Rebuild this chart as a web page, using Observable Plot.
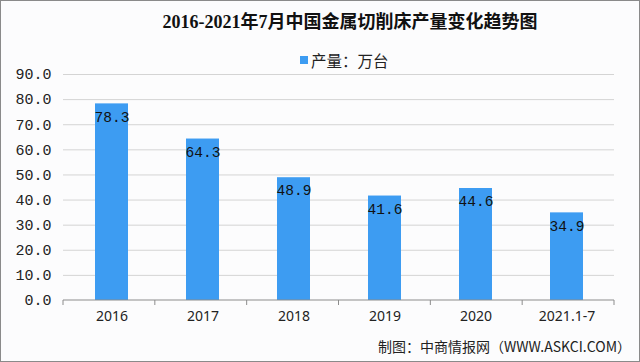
<!DOCTYPE html>
<html>
<head>
<meta charset="utf-8">
<script src="https://cdn.jsdelivr.net/npm/d3@7"></script>
<script src="https://cdn.jsdelivr.net/npm/@observablehq/plot@0.6"></script>
<style>
  html, body { margin: 0; padding: 0; background: #fff; }
  #frame {
    position: relative; width: 640px; height: 362px; box-sizing: border-box;
    border: 1px solid #8a8a8a; background: #fcfcfd; overflow: hidden;
    font-family: "Noto Sans CJK SC", "Noto Sans", sans-serif;
  }
  #title {
    position: absolute; left: 60px; right: 0; top: 9px; text-align: center;
    font-family: "Liberation Serif", "Noto Sans CJK SC", serif; font-weight: bold;
    font-size: 18px; color: #111; line-height: 24px;
  }
  #legend {
    position: absolute; left: 299px; top: 47px; font-size: 15.5px; color: #222; line-height: 24px;
    display: flex; align-items: center;
  }
  #legend .sw { width: 8px; height: 8px; background: #3d9cf2; margin-right: 3px; }
  #caption {
    position: absolute; right: 8px; top: 333px; font-size: 14px; color: #222; line-height: 24px;
  }
  #chart { position: absolute; left: 0; top: 0; }
</style>
</head>
<body>
<div id="frame">
  <div id="chart"></div>
  <div id="title">2016-2021年7月中国金属切削床产量变化趋势图</div>
  <div id="legend"><span class="sw"></span><span>产量：万台</span></div>
  <div id="caption">制图：中商情报网（WWW.ASKCI.COM）</div>
</div>
<script>
const categories = ["2016", "2017", "2018", "2019", "2020", "2021.1-7"];
const values = [78.3, 64.3, 48.9, 41.6, 44.6, 34.9];
const yTicks = [0, 10, 20, 30, 40, 50, 60, 70, 80, 90];

const data = categories.map((c, i) => ({category: c, value: values[i]}));

const W = 638, H = 360;
const mL = 62, mR = 25, mT = 73, mB = 61;

// category boundary ticks below the axis
function boundaryTicks(index, scales, values, dim) {
  const g = d3.create("svg:g");
  const n = categories.length;
  const x0 = dim.marginLeft, x1 = dim.width - dim.marginRight;
  const y0 = scales.y(0);
  for (let k = 0; k <= n; k++) {
    const x = x0 + k * (x1 - x0) / n;
    g.append("line").attr("x1", x).attr("x2", x).attr("y1", y0).attr("y2", y0 + 5)
      .attr("stroke", "#8c8c8c").attr("stroke-width", 1);
  }
  g.append("line").attr("x1", x0).attr("x2", x1).attr("y1", y0).attr("y2", y0)
    .attr("stroke", "#8c8c8c").attr("stroke-width", 1);
  return g.node();
}

const chart = Plot.plot({
  width: W, height: H,
  marginLeft: mL, marginRight: mR, marginTop: mT, marginBottom: mB,
  style: {background: "transparent", overflow: "visible"},
  x: {domain: categories, paddingInner: 0.64, paddingOuter: 0.32, label: null},
  y: {domain: [0, 90], label: null},
  marks: [
    Plot.gridY(yTicks.filter(d => d > 0), {stroke: "#d4d4d4", strokeOpacity: 1}),
    Plot.axisY({ticks: yTicks, tickSize: 0, tickPadding: 12, tickFormat: d => d.toFixed(1),
      fontSize: 15, fontFamily: "Liberation Mono, monospace", fill: "#222"}),
    Plot.axisX({tickSize: 0, tickPadding: 11, fontSize: 14,
      fontFamily: "Noto Sans, sans-serif", fill: "#222"}),
    Plot.barY(data, {x: "category", y: "value", fill: "#3d9cf2"}),
    boundaryTicks,
    Plot.text(data, {x: "category", y: "value", text: d => d.value.toFixed(1), dy: 13,
      fontSize: 14.5, fontFamily: "Liberation Mono, monospace", fill: "#111"})
  ]
});
document.getElementById("chart").appendChild(chart);
</script>
</body>
</html>
